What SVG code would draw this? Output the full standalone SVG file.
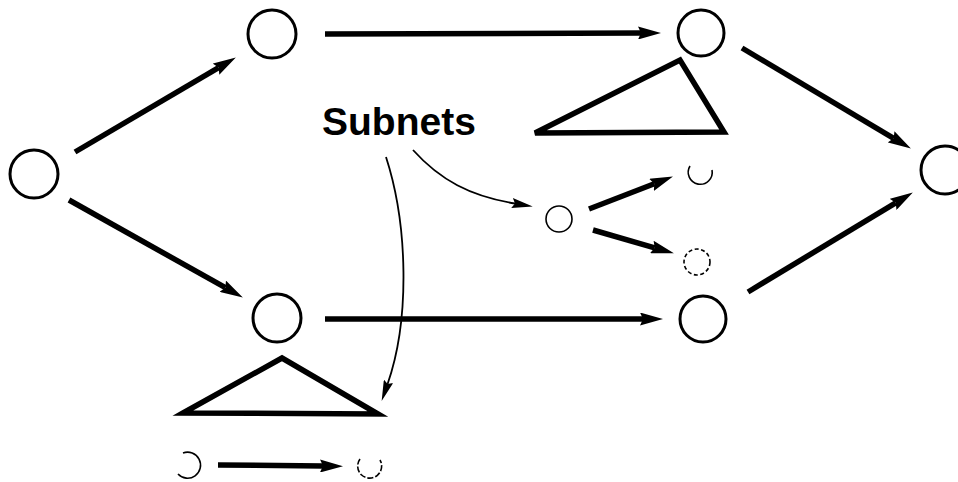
<svg xmlns="http://www.w3.org/2000/svg" width="958" height="482" viewBox="0 0 958 482">
<style>
.node{fill:none;stroke:#000;stroke-width:3}
.small{fill:none;stroke:#000;stroke-width:1.6}
.tri{fill:none;stroke:#000;stroke-width:5.5;stroke-linejoin:miter}
.edge{fill:none;stroke:#000;stroke-width:5.5}
.thin{fill:none;stroke:#000;stroke-width:1.8}
.label{font-family:"Liberation Sans",Arial,sans-serif;font-weight:bold;font-size:39px;fill:#000}
</style>
<defs>
<marker id="ah" markerUnits="userSpaceOnUse" markerWidth="23" markerHeight="13" refX="3" refY="6.5" orient="auto">
<path d="M0,0 L23,6.5 L0,13 L3,6.5 z" fill="#000"/>
</marker>
<marker id="ahThin" markerUnits="userSpaceOnUse" markerWidth="21" markerHeight="10" refX="3" refY="5" orient="auto">
<path d="M0,0 L21,5 L0,10 L3,5 z" fill="#000"/>
</marker>
</defs>
<rect width="958" height="482" fill="#fff"/>
<g id="nodeA"><circle class="node" cx="34" cy="174" r="24"/></g>
<g id="nodeB"><circle class="node" cx="272" cy="34" r="24"/></g>
<g id="nodeC"><circle class="node" cx="701" cy="33" r="23"/></g>
<g id="nodeD"><circle class="node" cx="945" cy="170" r="24"/></g>
<g id="nodeE"><circle class="node" cx="277" cy="318" r="24"/></g>
<g id="nodeF"><circle class="node" cx="703" cy="319" r="23"/></g>
<g id="subnetTop">
<polygon class="tri" points="535,133 680,60 724,132"/>
<path class="small" d="M690,166 A12,12 0 1 0 712,170"/>
<circle class="small" cx="559" cy="219" r="13"/>
<circle class="small" cx="697" cy="262" r="13" stroke-dasharray="4 2.5"/>
</g>
<g id="subnetBottom">
<polygon class="tri" points="183,413 282,358 378,414"/>
<path class="small" d="M183,453 A13,13 0 1 1 178,474"/>
<path class="small" d="M360,459 A12,12 0 1 0 380,460" stroke-dasharray="6 2"/>
</g>
<g id="label"><text class="label" x="322" y="135">Subnets</text></g>
<g id="connectors">
<line class="edge" x1="75" y1="152" x2="218.6" y2="67.6" marker-end="url(#ah)"/>
<line class="edge" x1="69" y1="200" x2="225.4" y2="287.7" marker-end="url(#ah)"/>
<line class="edge" x1="325" y1="34" x2="641" y2="33" marker-end="url(#ah)"/>
<line class="edge" x1="325" y1="319" x2="643" y2="319" marker-end="url(#ah)"/>
<line class="edge" x1="742" y1="48" x2="893.7" y2="138.3" marker-end="url(#ah)"/>
<line class="edge" x1="748" y1="292" x2="895.7" y2="202.8" marker-end="url(#ah)"/>
<line class="edge" x1="589" y1="209" x2="654.3" y2="183.8" stroke-width="5" marker-end="url(#ah)"/>
<line class="edge" x1="593" y1="230" x2="654.7" y2="247.8" stroke-width="5" marker-end="url(#ah)"/>
<line class="edge" x1="218" y1="465" x2="323" y2="466" stroke-width="5" marker-end="url(#ah)"/>
<path class="thin" d="M413,150 C440,180 470,196 515,203.5" marker-end="url(#ahThin)"/>
<path class="thin" d="M386,157 C408,225 410,320 387.6,384" marker-end="url(#ahThin)"/>
</g>
</svg>
